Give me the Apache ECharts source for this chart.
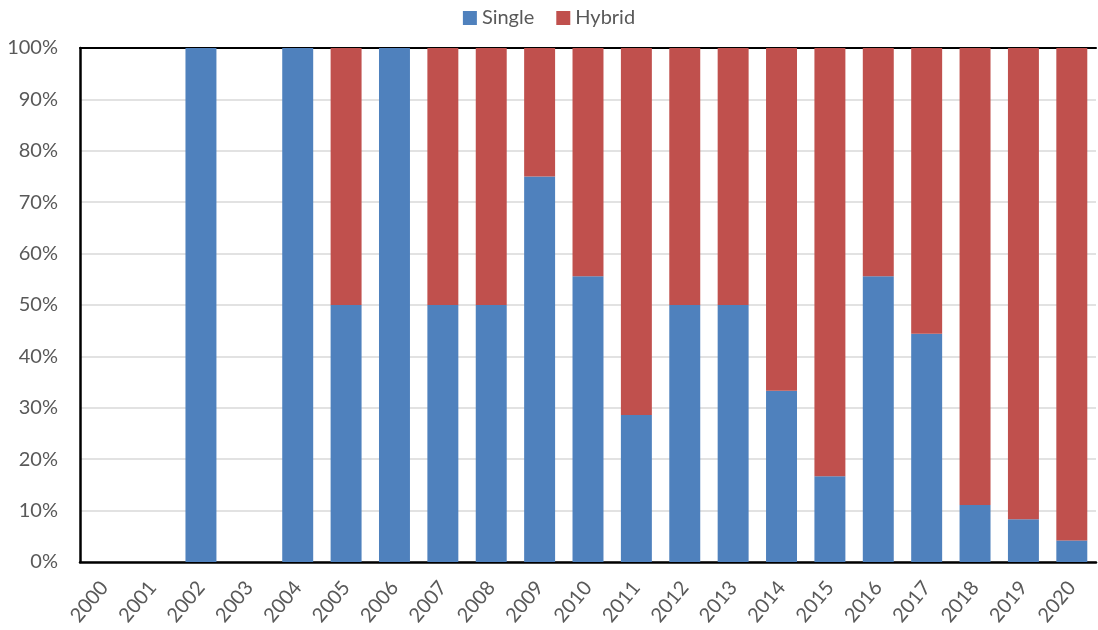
<!DOCTYPE html>
<html>
<head>
<meta charset="utf-8">
<script src="https://cdn.jsdelivr.net/npm/echarts@6/dist/echarts.min.js"></script>
<style>
  html, body { margin: 0; padding: 0; background: #ffffff; }
  #chart { width: 1098px; height: 630px; }
</style>
</head>
<body>
<div id="chart"></div>
<script>
// Share of single vs. hybrid entries per year (percent)
const years = ['2000','2001','2002','2003','2004','2005','2006','2007','2008','2009','2010',
               '2011','2012','2013','2014','2015','2016','2017','2018','2019','2020'];
const single = [0, 0, 100, 0, 100, 50, 100, 50, 50, 75, 55.6,
                28.6, 50, 50, 33.3, 16.7, 55.6, 44.4, 11.1, 8.3, 4.2];
const hybrid = [0, 0, 0, 0, 0, 50, 0, 50, 50, 25, 44.4,
                71.4, 50, 50, 66.7, 83.3, 44.4, 55.6, 88.9, 91.7, 95.8];

const FONT = 'Lato, "Open Sans", sans-serif';
const TEXT = '#595959';

const chart = echarts.init(document.getElementById('chart'), null, { renderer: 'canvas' });
chart.setOption({
  animation: false,
  backgroundColor: '#ffffff',
  textStyle: { fontFamily: FONT },
  legend: {
    top: 3,
    left: 'center',
    itemWidth: 14,
    itemHeight: 14,
    itemGap: 22,
    icon: 'rect',
    textStyle: { color: TEXT, fontSize: 20, fontFamily: FONT },
    data: ['Single', 'Hybrid']
  },
  grid: { left: 80, right: 2, top: 48, bottom: 68, containLabel: false },
  xAxis: [{
    type: 'category',
    data: years,
    axisLine: { show: true, lineStyle: { color: '#000000', width: 2.5 } },
    axisTick: { show: false },
    axisLabel: { rotate: 50, color: TEXT, fontSize: 20, fontFamily: FONT, margin: 22, interval: 0 }
  }, {
    type: 'category',
    position: 'top',
    data: years,
    axisLine: { show: true, lineStyle: { color: '#000000', width: 2 } },
    axisTick: { show: false },
    axisLabel: { show: false }
  }],
  yAxis: {
    type: 'value',
    min: 0,
    max: 100,
    interval: 10,
    axisLine: { show: true, lineStyle: { color: '#000000', width: 2.5 } },
    axisTick: { show: false },
    axisLabel: { formatter: '{value}%', color: TEXT, fontSize: 20, fontFamily: FONT, margin: 22 },
    splitLine: { lineStyle: { color: '#d9d9d9', width: 1.5 } }
  },
  series: [{
    name: 'Single',
    type: 'bar',
    stack: 'share',
    barWidth: '64%',
    data: single,
    itemStyle: { color: '#4f81bd' }
  }, {
    name: 'Hybrid',
    type: 'bar',
    stack: 'share',
    barWidth: '64%',
    data: hybrid,
    itemStyle: { color: '#c0504d' }
  }]
});
</script>
</body>
</html>
